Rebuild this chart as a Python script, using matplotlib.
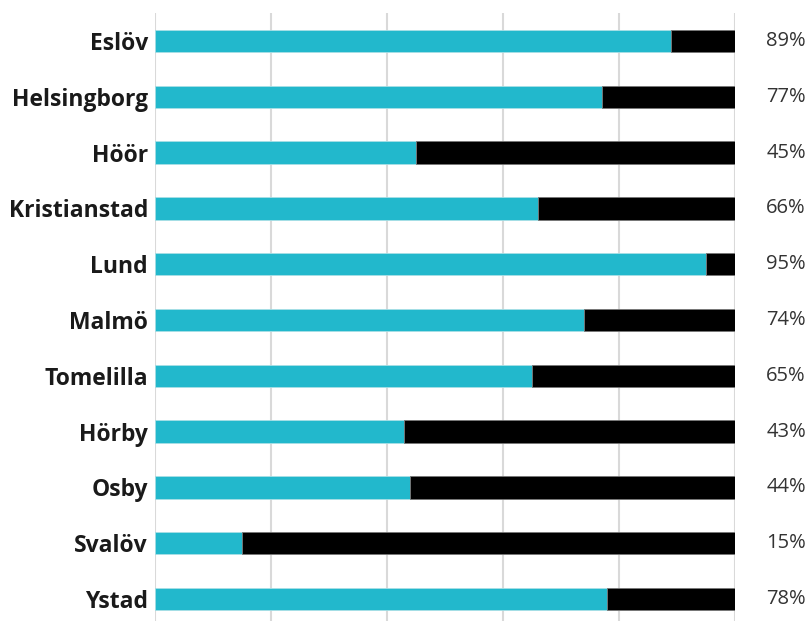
import matplotlib.pyplot as plt

# Data
towns = ['Eslöv', 'Helsingborg', 'Höör', 'Kristianstad', 'Lund', 'Malmö',
         'Tomelilla', 'Hörby', 'Osby', 'Svalöv', 'Ystad']
share = [89, 77, 45, 66, 95, 74, 65, 43, 44, 15, 78]
rest = [100 - v for v in share]

fig = plt.figure(figsize=(8.12, 6.21), dpi=100)
ax = fig.add_axes([155 / 812, 0, 580 / 812, 608 / 621])

ypos = list(range(len(towns)))
ax.barh(ypos, share, height=0.4, color='#22b8cc', edgecolor='#a8dfe6', linewidth=0.6, zorder=3)
ax.barh(ypos, rest, left=share, height=0.4, color='#000000', edgecolor='#777777', linewidth=0.6, zorder=3)

ax.set_xlim(0, 100)
ax.set_ylim(10.394, -0.502)
ax.set_xticks([0, 20, 40, 60, 80, 100])
ax.xaxis.grid(True, color='#d9d9d9', linewidth=1.5, zorder=0)
ax.tick_params(axis='both', length=0, labelbottom=False)
ax.set_yticks(ypos)
ax.set_yticklabels(towns, fontsize=16.5, fontweight='bold', family='Open Sans', color='#1a1a1a')
ax.tick_params(axis='y', pad=5)
for s in ax.spines.values():
    s.set_visible(False)

# Percent labels on the right
for y, v in zip(ypos, share):
    ax.text(108.8, y, f'{v}%', ha='center', va='center', fontsize=14.5,
            family='Open Sans', color='#333333', clip_on=False)

fig.savefig('out.png', dpi=100)
